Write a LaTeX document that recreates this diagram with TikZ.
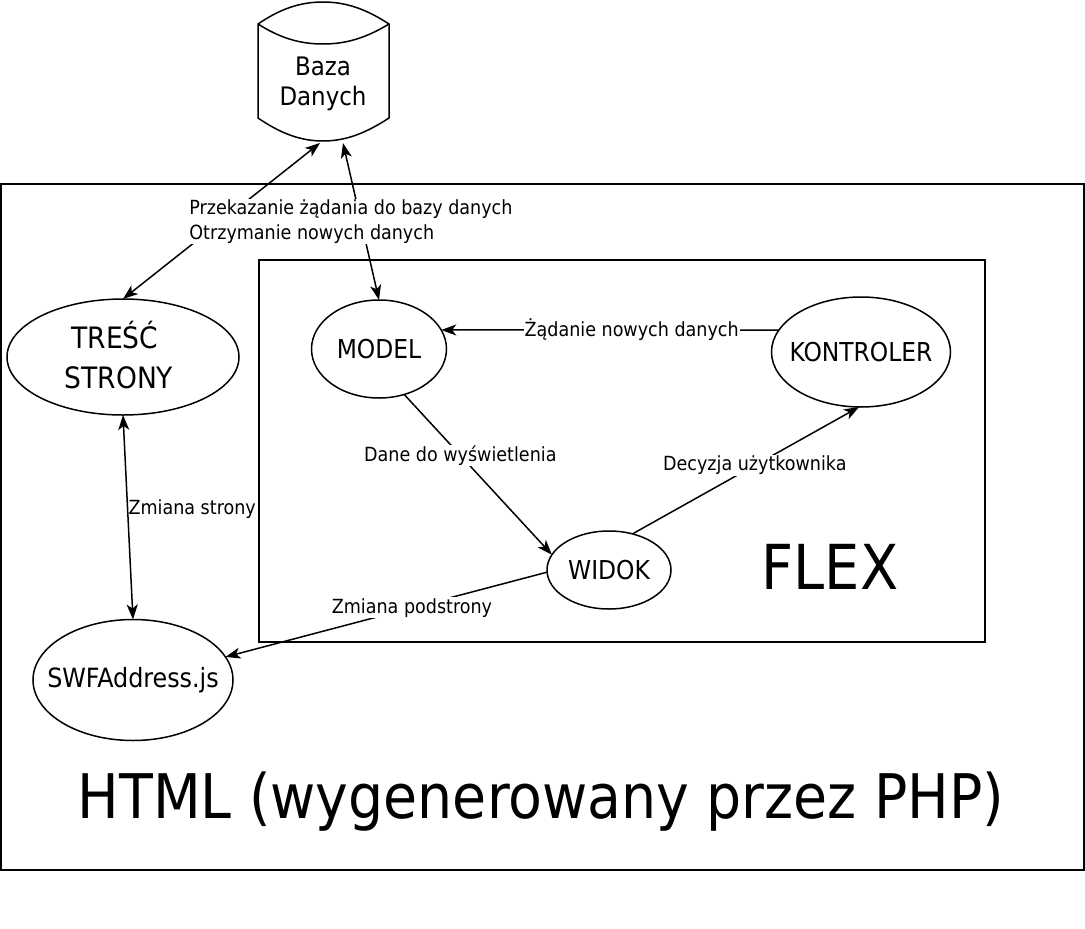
\documentclass[tikz,border=0pt]{standalone}
\usepackage{fontspec}
\setmainfont{DejaVu Sans Condensed}
\usetikzlibrary{shapes.geometric,arrows.meta}
\begin{document}
\begin{tikzpicture}[x=1pt,y=-1pt,
  line width=1.5pt,
  every node/.style={inner sep=0pt,outer sep=0pt},
  ell/.style={ellipse,draw,line width=1.5pt},
  etxt/.style={font=\fontsize{26}{30}\selectfont},
  arr/.style={-{Stealth[length=15pt,width=11pt,inset=4pt]}},
  darr/.style={{Stealth[length=15pt,width=11pt,inset=4pt]}-{Stealth[length=15pt,width=11pt,inset=4pt]}},
  lbl/.style={font=\fontsize{19.5}{25}\selectfont,fill=white,inner sep=1pt}]
\useasboundingbox (0,0) rectangle (1085,929);
\fill[white] (0,0) rectangle (1085,929);
% frames
\draw (1,184) rectangle (1084,870);
\draw (259,260) rectangle (985,642);
% database
\draw[fill=white] (258,24) .. controls (280,9) and (300,2) .. (323,2) .. controls (346,2) and (366,9) .. (389,24)
  -- (389,118) .. controls (366,133) and (346,141) .. (323,141) .. controls (300,141) and (280,133) .. (258,118) -- cycle;
\draw (258,24) .. controls (280,38) and (300,44) .. (323,44) .. controls (346,44) and (366,38) .. (389,24);
\node[align=center,font=\fontsize{25.5}{30}\selectfont] (db) at (323,84) {Baza\\Danych};
\coordinate (dbA) at (320,143);
\coordinate (dbB) at (343,143);
% ellipses
\node[ell,minimum width=232,minimum height=116] (tresc) at (123,357) {};
\node[align=center,font=\fontsize{29.5}{40}\selectfont] (trescT) at (119,355.5) {TREŚĆ\hspace*{8pt}\\STRONY};
\node[ell,minimum width=135,minimum height=98,label={[etxt]center:MODEL}] (model) at (379,349) {};
\node[ell,minimum width=179,minimum height=110,label={[etxt]center:KONTROLER}] (kontroler) at (861,352) {};
\node[ell,minimum width=124,minimum height=78,label={[etxt]center:WIDOK}] (widok) at (609,570) {};
\node[ell,minimum width=200,minimum height=121,label={[etxt,font=\fontsize{26.5}{30}\selectfont]center:SWFAddress.js}] (swf) at (133,680) {};
% big labels
\node[font=\fontsize{62}{64}\selectfont] (flex) at (830,567) {FLEX};
\node[font=\fontsize{61.5}{64}\selectfont] (html) at (541,802) {HTML (wygenerowany przez PHP)};
% connectors
\draw[darr] (tresc.north) -- (dbA);
\draw[darr] (dbB) -- (model.north) node[pos=0.5,lbl,align=left,xshift=-10pt] {Przekazanie żądania do bazy danych\\Otrzymanie nowych danych};
\draw[arr] (kontroler.165) -- (model.17) node[pos=0.436,lbl] {Żądanie nowych danych};
\draw[arr] (model.299) -- (widok.165) node[pos=0.38,lbl] {Dane do wyświetlenia};
\draw[arr] (widok.57) -- (kontroler.268) node[pos=0.54,lbl] {Decyzja użytkownika};
\draw[arr] (widok.182) -- (swf.14) node[pos=0.42,lbl] {Zmiana podstrony};
\draw[darr] (tresc.south) -- (swf.north) node[pos=0.46,anchor=west,font=\fontsize{19.5}{20}\selectfont,xshift=1pt] {Zmiana strony};
\end{tikzpicture}
\end{document}
